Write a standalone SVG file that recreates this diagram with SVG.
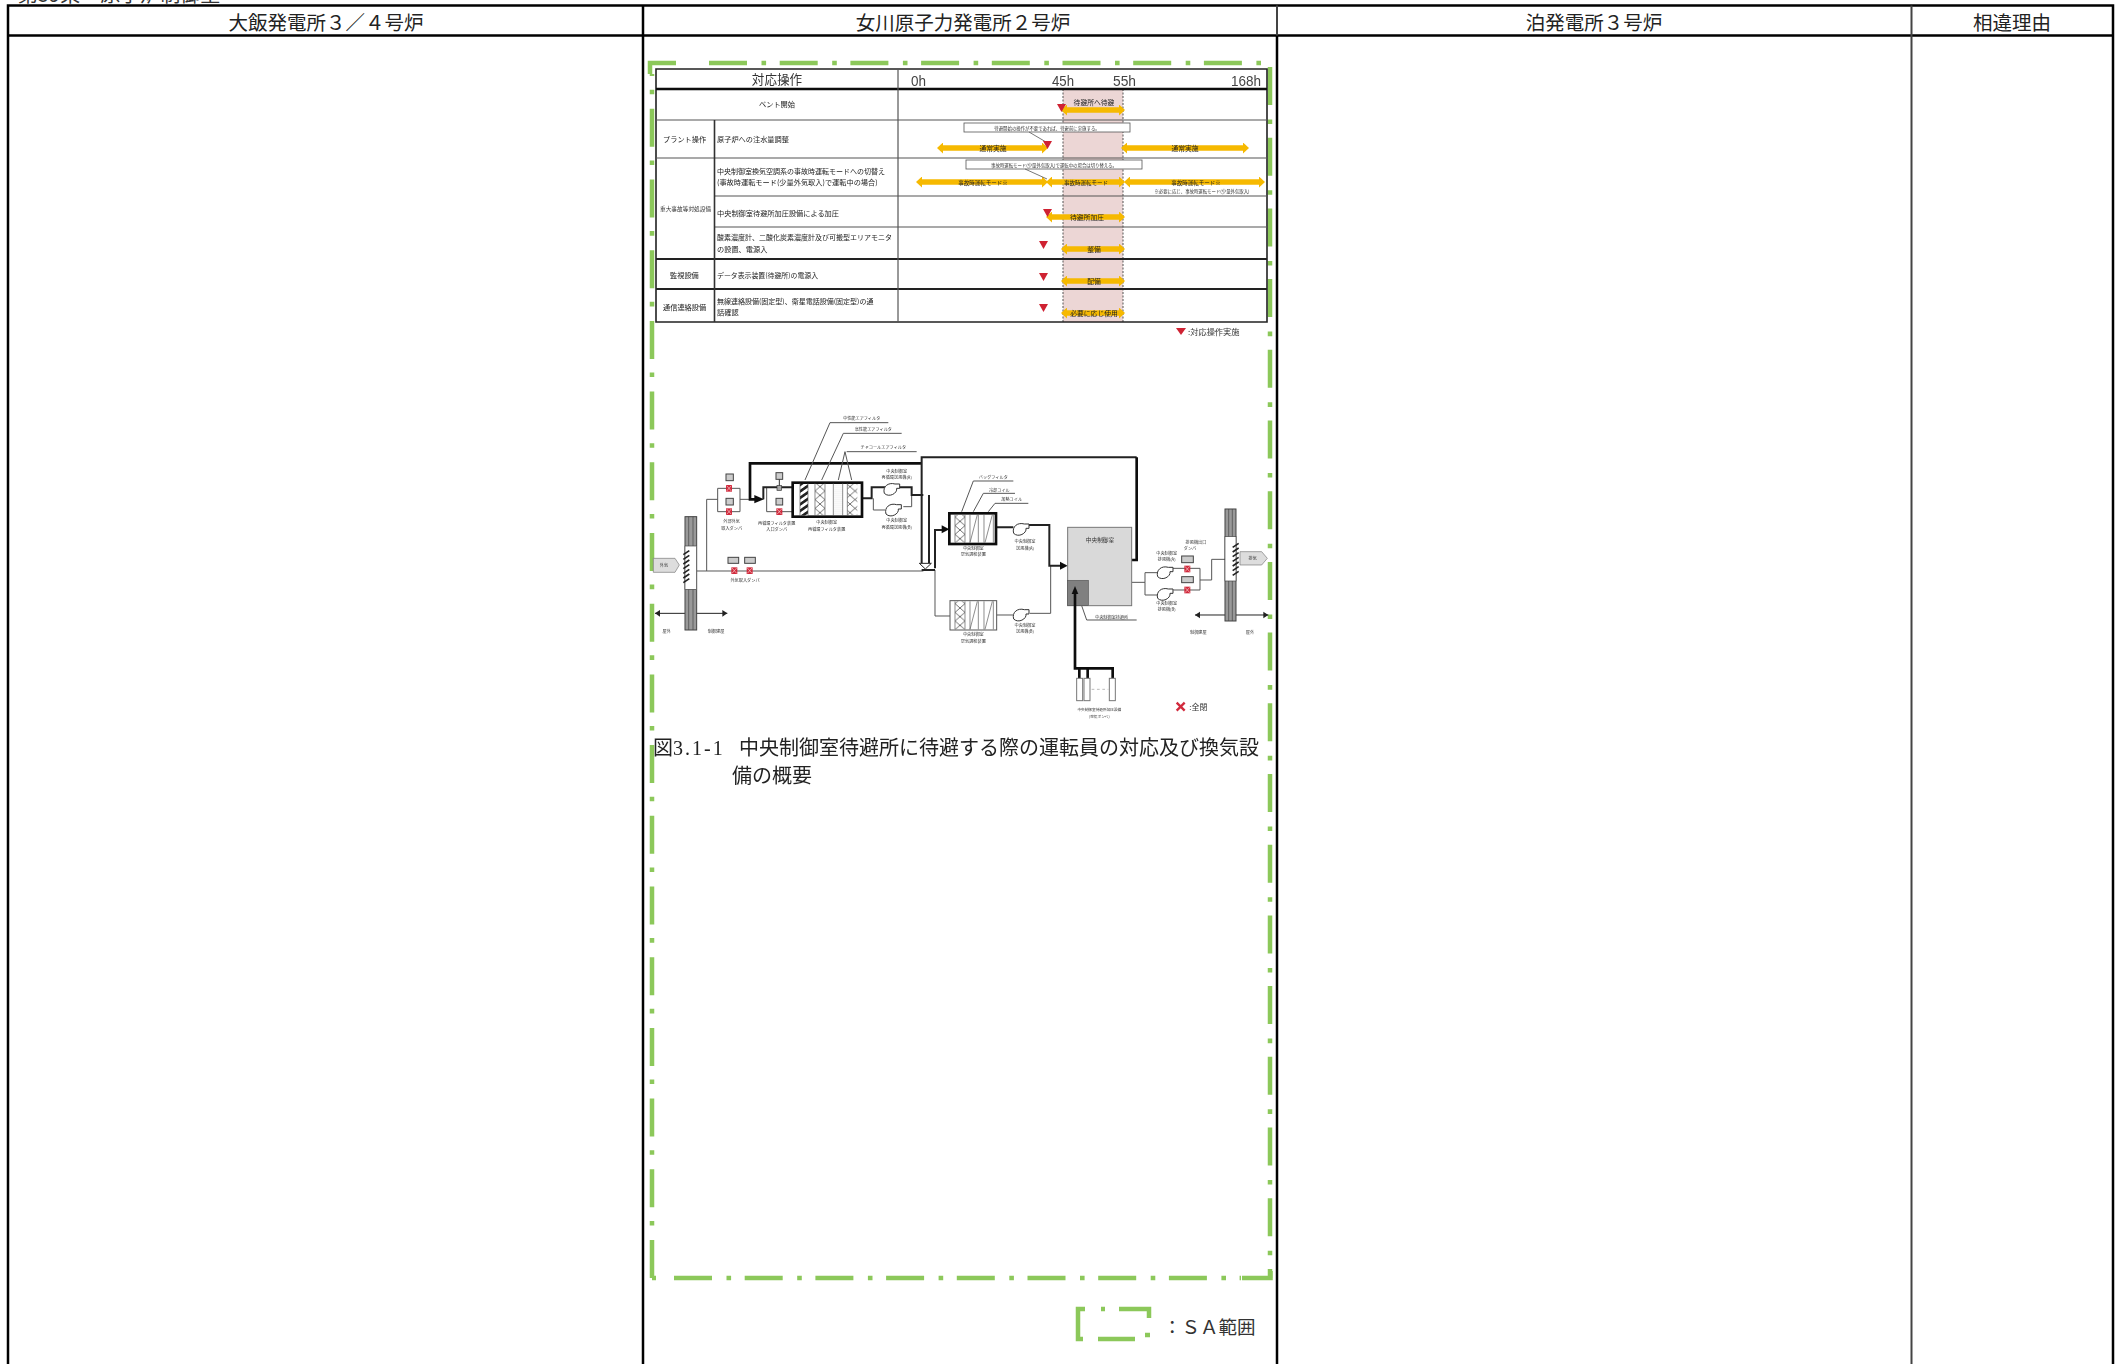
<svg xmlns="http://www.w3.org/2000/svg" width="2121" height="1364" viewBox="0 0 2121 1364">
<style>
text{font-family:"Noto Sans CJK JP","Liberation Sans",sans-serif;fill:#333}
.h{font-size:19.5px;text-anchor:middle;fill:#222}
.cap{font-size:20px;fill:#222;font-family:"Liberation Serif","Noto Sans CJK JP",serif}
.grid{stroke:#000;stroke-width:2.5;fill:none}
.sa{fill:none;stroke:#8cc85a;stroke-width:4.5;stroke-dasharray:38 14.5 4.6 13.6}
.sas{fill:none;stroke:#8cc85a;stroke-width:4.5}
.a{stroke:#f6b900;stroke-width:5.5;fill:none;marker-start:url(#oa);marker-end:url(#oa)}
.tri{fill:#cf2233}
.s{font-size:7.2px;fill:#222}
.c{text-anchor:middle}
.m{font-size:6.8px;text-anchor:middle;fill:#222}
.m5{font-size:5.5px;text-anchor:middle;fill:#222}
.n{font-size:4.4px;text-anchor:middle;fill:#333}
.hr{font-size:15px;fill:#444;font-family:"Liberation Sans",sans-serif}
.tl{stroke:#555;stroke-width:3;fill:none}
.tb{stroke:#111;stroke-width:8;fill:none}
.tm{stroke:#222;stroke-width:6;fill:none}
.z{font-size:12.5px;text-anchor:middle;fill:#333}
.zb{fill:#ccc;stroke:#444;stroke-width:3}
.fn{fill:#fff;stroke:#333;stroke-width:3}
.lv{fill:none;stroke:#222;stroke-width:5}
</style>
<defs>
<marker id="oa" viewBox="0 0 6 11" refX="1" refY="5.5" markerWidth="6" markerHeight="11" markerUnits="userSpaceOnUse" orient="auto-start-reverse"><path d="M0 0L6 5.5L0 11Z" fill="#f6b900"/></marker>
<pattern id="hatch" width="16" height="16" patternUnits="userSpaceOnUse" patternTransform="rotate(-35)"><rect width="16" height="16" fill="#fff"/><rect width="16" height="8" fill="#222"/></pattern>
<pattern id="xx" width="30" height="26" patternUnits="userSpaceOnUse"><path d="M0 0L30 26M30 0L0 26" stroke="#555" stroke-width="2.5" fill="none"/></pattern>
<pattern id="dots" width="6" height="6" patternUnits="userSpaceOnUse"><circle cx="3" cy="3" r="1" fill="#777"/></pattern>
<filter id="bl" x="-2%" y="-2%" width="104%" height="104%"><feGaussianBlur stdDeviation="0.45"/></filter>
<g id="dmp"><rect x="-9" y="-10" width="18" height="20" fill="#d12a3c"/><path d="M-7 -8L7 8M7 -8L-7 8" stroke="#f4d0d0" stroke-width="2"/></g>
<g id="fan"><path d="M-22 12C-28 -8 -10 -22 10 -16L24 -16L24 -3L15 -3C18 12 -8 26 -22 12Z" class="fn"/></g>
</defs>
<rect width="2121" height="1364" fill="#fff"/>

<g id="title"><text x="18" y="2" font-size="20">第59条　原子炉制御室</text></g>
<g id="frame">
<path class="grid" d="M8 1370V5.500H2113V1370M8 35.500H2113M643 5.500V1370M1277 35.500V1370"/>
<path d="M1277 5.500V35.500M1911.500 5.500V1370" stroke="#444" stroke-width="2" fill="none"/>
</g>
<g id="col-ohi"><text class="h" x="326" y="30">大飯発電所３／４号炉</text></g>
<g id="col-onagawa"><text class="h" x="963" y="30">女川原子力発電所２号炉</text></g>
<g id="col-tomari"><text class="h" x="1594" y="30">泊発電所３号炉</text></g>
<g id="col-reason"><text class="h" x="2012" y="30">相違理由</text></g>

<g id="sa-boundary">
<path class="sa" d="M709 63H1270"/>
<path class="sas" d="M676 63H650V74"/>
<path class="sa" d="M652 1278V74"/>
<path class="sa" d="M1270 67V1278"/>
<path class="sa" d="M674 1278H1241"/>
<path class="sas" d="M1242 1278H1270.500V1271"/>
<path class="sas" d="M652 1278H656"/>
</g>

<g id="chart" filter="url(#bl)">
<rect x="1063" y="89" width="60" height="233" fill="#ecd6d5"/>
<path d="M1063 89V322M1123 89V322" stroke="#555" stroke-width="1" stroke-dasharray="2 1.500"/>
<g id="chart-grid">
<path d="M656 69H1267V322H656Z" fill="none" stroke="#222" stroke-width="1.600"/>
<path d="M656 89H1267" stroke="#111" stroke-width="2.600"/>
<path d="M656 120H1267M656 158H1267M714.500 196H1267M714.500 227H1267" stroke="#555" stroke-width="1.200"/>
<path d="M656 259H1267M656 289H1267" stroke="#222" stroke-width="2"/>
<path d="M714.500 120V322" stroke="#333" stroke-width="1.600"/>
<path d="M898 69V322" stroke="#555" stroke-width="1.200"/>
</g>
<g id="chart-heads">
<text x="777" y="84" class="c" font-size="12.600">対応操作</text>
<text class="hr" x="911" y="85.500" textLength="15" lengthAdjust="spacingAndGlyphs">0h</text><text class="hr" x="1052" y="85.500" textLength="22" lengthAdjust="spacingAndGlyphs">45h</text><text class="hr" x="1113" y="85.500" textLength="23" lengthAdjust="spacingAndGlyphs">55h</text><text class="hr" x="1231" y="85.500" textLength="30" lengthAdjust="spacingAndGlyphs">168h</text>
</g>
<g id="chart-labels">
<text class="s c" x="777" y="106.500">ベント開始</text>
<text class="s" x="663" y="141.500">プラント操作</text>
<text class="s" x="717" y="141.500">原子炉への注水量調整</text>
<text class="s" x="717" y="173.500" style="font-size:7px">中央制御室換気空調系の事故時運転モードへの切替え</text>
<text class="s" x="717" y="185">(事故時運転モード(少量外気取入)で運転中の場合)</text>
<text x="660" y="210.500" font-size="5.700" fill="#222">重大事故等対処設備</text>
<text class="s" x="717" y="215.500">中央制御室待避所加圧設備による加圧</text>
<text class="s" x="717" y="239.500" style="font-size:7px">酸素濃度計、二酸化炭素濃度計及び可搬型エリアモニタ</text>
<text class="s" x="717" y="252">の設置、電源入</text>
<text class="s" x="670" y="277.500">監視設備</text>
<text class="s" x="717" y="277.500" style="font-size:6.900px">データ表示装置(待避所)の電源入</text>
<text class="s" x="663" y="309.500">通信連絡設備</text>
<text class="s" x="717" y="303.500" style="font-size:7px">無線連絡設備(固定型)、衛星電話設備(固定型)の通</text>
<text class="s" x="717" y="314.500">話確認</text>
</g>
<g id="chart-arrows">
<path class="a" d="M1066 110H1120"/>
<path class="a" d="M942 148H1043"/>
<path class="a" d="M1126 148H1244"/>
<path class="a" d="M921 182H1043"/>
<path class="a" d="M1051 182H1120"/>
<path class="a" d="M1129 182H1260"/>
<path class="a" d="M1051 217H1120"/>
<path class="a" d="M1066 249H1120"/>
<path class="a" d="M1066 281H1120"/>
<path class="a" d="M1066 313H1120"/>
</g>
<g id="chart-bar-labels">
<text class="m" x="1094" y="105">待避所へ待避</text>
<text class="m" x="993" y="150.500">通常実施</text>
<text class="m" x="1185" y="150.500">通常実施</text>
<text class="m5" x="983" y="184.500">事故時運転モード※</text>
<text class="m5" x="1086" y="184.500">事故時運転モード</text>
<text class="m5" x="1196" y="184.500">事故時運転モード※</text>
<text class="n" x="1202" y="193">※必要に応じ、事故時運転モード(少量外気取入)</text>
<text class="m" x="1087" y="219.500">待避所加圧</text>
<text class="m" x="1094" y="251.500">整備</text>
<text class="m" x="1094" y="283.500">配備</text>
<text class="m" x="1094" y="315.500">必要に応じ使用</text>
</g>
<g id="chart-notes">
<rect x="964" y="123" width="166" height="9" fill="#fff" stroke="#555" stroke-width=".8"/>
<text class="n" x="1047" y="129.500">待避開始の操作が不要であれば、待避前に実施する。</text>
<path d="M1029 132L1046 142" stroke="#555" stroke-width=".8" fill="none"/>
<rect x="966" y="160" width="176" height="9" fill="#fff" stroke="#555" stroke-width=".8"/>
<text class="n" x="1054" y="166.500">事故時運転モード(少量外気取入)で運転中の場合は切り替える。</text>
<path d="M1025 169L1047 179" stroke="#555" stroke-width=".8" fill="none"/>
</g>
<g id="chart-marks">
<path class="tri" d="M1057 104H1066L1061.500 112Z"/>
<path class="tri" d="M1043 141H1052L1047.500 149Z"/>
<path class="tri" d="M1043 209H1052L1047.500 217Z"/>
<path class="tri" d="M1039 241H1048L1043.500 249Z"/>
<path class="tri" d="M1039 273H1048L1043.500 281Z"/>
<path class="tri" d="M1039 304H1048L1043.500 312Z"/>
<path class="tri" d="M1176 328H1186L1181 335Z"/>
<text x="1188" y="335" font-size="8.200" fill="#333">:対応操作実施</text>
</g>
</g>

<g id="flow" filter="url(#bl)" transform="translate(640 400) scale(.33333)">
<g id="connectors">
<path class="tl" d="M170 513H850M200 513V298H233M300 298H330M233 265V335H300V265ZM380 262V335H458M700 295V330H735M790 320H815V285M885 510V648H930M1070 645H1120M1170 640H1232V497M1475 547H1515V518H1555M1515 547V585H1555"/>
<path class="tb" d="M845 190H330V298H355"/>
<path class="tm" d="M845 285V172H1490"/>
<path class="tb" d="M1490 172V480H1470"/>
<path d="M1470 470L1456 480L1470 490Z" fill="#111"/>
<path d="M343 285L372 298L343 310Z" fill="#111"/>
<path class="tm" d="M370 298V262H458M665 295H695V262H735M775 262H815V285H850"/>
<path class="tm" d="M845 285V490M867 285V490M845 510H885"/>
<path d="M838 490H874L856 507Z" fill="#fff" stroke="#222" stroke-width="3"/>
<path class="tm" d="M885 505V390H910"/>
<path d="M905 376L928 388L905 400Z" fill="#111"/>
<path class="tm" d="M1068 382H1120M1165 375H1228V497H1262"/>
<path d="M1260 485L1283 497L1260 509Z" fill="#111"/>
<path class="tb" d="M1305 795V805H1418V835M1318 805V835M1343 805V835"/>
<path class="tl" d="M1595 505H1680V570H1600M1680 540H1715V478H1755"/>
<path class="tl" d="M1325 617L1340 660H1490"/>
<path class="tl" d="M570 68H745M570 68L495 240M610 100H785M610 100L545 240M620 155H830M615 155L595 240M615 155L635 240M1000 243H1120M1000 243L965 335M1030 280H1125M1030 280L1000 335M1065 310H1165M1065 310L1045 335"/>
<path d="M45 640H262M1665 645H1885" stroke="#222" stroke-width="3"/>
<path d="M45 640L60 630V650ZM262 640L247 630V650ZM1665 645L1680 635V655ZM1885 645L1870 635V655Z" fill="#222"/>
</g>
<g id="wall-left">
<rect x="135" y="350" width="35" height="340" fill="#999" stroke="#444" stroke-width="3"/>
<path d="M146 350V690M159 350V690" stroke="#444" stroke-width="2"/>
<rect x="135" y="438" width="35" height="130" fill="#fff" stroke="#444" stroke-width="2"/>
<path class="lv" d="M130 464L148 452M130 478L148 466M130 492L148 480M130 506L148 494M130 520L148 508M130 534L148 522M130 548L148 536"/>
</g>
<g id="outside-air">
<path d="M40 475H105L118 495L105 517H40Z" fill="#ddd" stroke="#777" stroke-width="2"/>
<text class="z" x="72" y="500">外気</text>
</g>
<g id="outdoor-left"><text class="z" x="80" y="700">屋外</text><text class="z" x="228" y="700">制御建屋</text></g>
<g id="damper-intake-a">
<rect class="zb" x="258" y="222" width="22" height="20"/><use href="#dmp" x="267" y="265"/>
<rect class="zb" x="258" y="295" width="22" height="20"/><use href="#dmp" x="267" y="335"/>
<text class="z" x="275" y="370">外部外気</text><text class="z" x="275" y="390">取入ダンパ</text>
</g>
<g id="damper-recirc">
<rect class="zb" x="408" y="218" width="20" height="20"/><path d="M418 238V262" stroke="#333" stroke-width="3"/><rect x="411" y="257" width="14" height="14" fill="#aaa" stroke="#333" stroke-width="2"/>
<rect class="zb" x="408" y="295" width="20" height="20"/><use href="#dmp" x="418" y="335"/>
<text class="z" x="410" y="374">再循環フィルタ装置</text><text class="z" x="410" y="392">入口ダンパ</text>
</g>
<g id="recirc-filter">
<rect x="458" y="248" width="208" height="102" fill="#fff" stroke="#111" stroke-width="8"/>
<rect x="480" y="252" width="24" height="94" fill="url(#hatch)"/>
<rect x="525" y="252" width="30" height="94" fill="url(#xx)"/>
<rect x="582" y="252" width="26" height="94" fill="url(#dots)"/>
<rect x="622" y="252" width="30" height="94" fill="url(#xx)"/>
<path d="M480 250V348M504 250V348M525 250V348M555 250V348M580 250V348M608 250V348M622 250V348" stroke="#555" stroke-width="2"/>
<text class="z" x="560" y="371">中央制御室</text><text class="z" x="560" y="392">再循環フィルタ装置</text>
</g>
<g id="filter-labels">
<text class="z" x="665" y="60">中性能エアフィルタ</text>
<text class="z" x="700" y="93">高性能エアフィルタ</text>
<text class="z" x="730" y="147">チャコールエアフィルタ</text>
<text class="z" x="1060" y="238">バッグフィルタ</text>
<text class="z" x="1078" y="275">冷却コイル</text>
<text class="z" x="1115" y="304">加熱コイル</text>
</g>
<g id="fan-recirc-a"><use href="#fan" x="755" y="268"/><text class="z" x="770" y="218">中央制御室</text><text class="z" x="770" y="236">再循環送風機(A)</text></g>
<g id="fan-recirc-b"><use href="#fan" x="760" y="330"/><text class="z" x="770" y="366">中央制御室</text><text class="z" x="770" y="387">再循環送風機(B)</text></g>
<g id="damper-intake">
<rect class="zb" x="264" y="472" width="32" height="18"/><rect class="zb" x="314" y="472" width="32" height="18"/>
<use href="#dmp" x="283" y="512"/><use href="#dmp" x="329" y="512"/>
<text class="z" x="315" y="545">外気取入ダンパ</text>
</g>
<g id="ahu-a">
<rect x="928" y="340" width="140" height="92" fill="#fff" stroke="#111" stroke-width="8"/>
<rect x="945" y="344" width="30" height="84" fill="url(#xx)"/>
<path d="M945 344V428M975 344V428M990 344V428M1015 344V428M1032 344V428M1060 344V428M990 428L1012 344M1035 428L1057 344" stroke="#555" stroke-width="2" fill="none"/>
<text class="z" x="1000" y="449">中央制御室</text><text class="z" x="1000" y="469">空気調和装置</text>
</g>
<g id="ahu-b">
<rect x="930" y="602" width="140" height="88" fill="#fff" stroke="#555" stroke-width="3"/>
<rect x="945" y="604" width="30" height="84" fill="url(#xx)"/>
<path d="M945 604V688M975 604V688M990 604V688M1015 604V688M1032 604V688M1060 604V688M990 688L1012 604M1035 688L1057 604" stroke="#555" stroke-width="2" fill="none"/>
<text class="z" x="1000" y="708">中央制御室</text><text class="z" x="1000" y="728">空気調和装置</text>
</g>
<g id="fan-supply-a"><use href="#fan" x="1143" y="388"/><text class="z" x="1155" y="429">中央制御室</text><text class="z" x="1155" y="449">送風機(A)</text></g>
<g id="fan-supply-b"><use href="#fan" x="1143" y="645"/><text class="z" x="1155" y="682">中央制御室</text><text class="z" x="1155" y="699">送風機(B)</text></g>
<g id="control-room">
<rect x="1283" y="382" width="192" height="235" fill="#d9d9d9" stroke="#777" stroke-width="3"/>
<rect x="1283" y="541" width="62" height="76" fill="#808080" stroke="#555" stroke-width="2"/>
<text x="1380" y="427" font-size="17" text-anchor="middle" fill="#333">中央制御室</text>
<path d="M1305 575V795" stroke="#111" stroke-width="8"/>
<path d="M1295 582L1305 558L1315 582Z" fill="#111"/>
</g>
<g id="shelter-label"><text class="z" x="1415" y="656">中央制御室待避所</text></g>
<g id="tanks">
<rect x="1310" y="835" width="18" height="67" fill="#fff" stroke="#777" stroke-width="3"/>
<rect x="1332" y="835" width="18" height="67" fill="#fff" stroke="#777" stroke-width="3"/>
<rect x="1408" y="835" width="18" height="67" fill="#fff" stroke="#777" stroke-width="3"/>
<path d="M1355 868H1405" stroke="#999" stroke-width="2" stroke-dasharray="8 8"/>
<text class="z" x="1378" y="934" style="font-size:11px">中央制御室待避所加圧設備</text><text class="z" x="1378" y="954" style="font-size:11px">(空気ボンベ)</text>
</g>
<g id="fan-exhaust-a"><use href="#fan" x="1575" y="518"/><text class="z" x="1580" y="464">中央制御室</text><text class="z" x="1580" y="482">排風機(A)</text></g>
<g id="fan-exhaust-b"><use href="#fan" x="1575" y="583"/><text class="z" x="1580" y="616">中央制御室</text><text class="z" x="1580" y="634">排風機(B)</text></g>
<g id="damper-exhaust">
<rect class="zb" x="1625" y="468" width="35" height="20"/><rect class="zb" x="1625" y="530" width="35" height="18"/>
<use href="#dmp" x="1642" y="507"/><use href="#dmp" x="1642" y="570"/>
<text class="z" x="1668" y="432">排風機出口</text><text class="z" x="1650" y="449">ダンパ</text>
</g>
<g id="wall-right">
<rect x="1755" y="327" width="33" height="336" fill="#999" stroke="#444" stroke-width="3"/>
<path d="M1766 327V663M1777 327V663" stroke="#444" stroke-width="2"/>
<rect x="1755" y="410" width="33" height="133" fill="#fff" stroke="#444" stroke-width="2"/>
<path class="lv" d="M1778 442L1796 430M1778 456L1796 444M1778 470L1796 458M1778 484L1796 472M1778 498L1796 486M1778 512L1796 500M1778 526L1796 514"/>
</g>
<g id="exhaust-air">
<path d="M1800 455H1865L1882 475L1865 495H1800Z" fill="#ddd" stroke="#777" stroke-width="2"/>
<text class="z" x="1838" y="481">排気</text>
</g>
<g id="outdoor-right"><text class="z" x="1675" y="702">制御建屋</text><text class="z" x="1830" y="702">屋外</text></g>
<g id="legend-closed">
<path d="M1610 908L1634 932M1634 908L1610 932" stroke="#d12a3c" stroke-width="7"/>
<text x="1648" y="929" font-size="24" fill="#444">:全閉</text>
</g>
</g>

<g id="caption" filter="url(#bl)">
<text class="cap" x="653" y="755">図<tspan letter-spacing="2">3.1-1</tspan></text>
<text class="cap" x="739" y="755">中央制御室待避所に待避する際の運転員の対応及び換気設</text>
<text class="cap" x="732" y="783">備の概要</text>
</g>
<g id="sa-legend">
<path class="sas" d="M1085 1309H1078V1339H1083M1119 1309H1149V1318M1098 1339H1135"/>
<path d="M1101 1309H1105M1145 1335H1150" class="sas"/>
<text x="1163" y="1334" font-size="18.500" fill="#222">：ＳＡ範囲</text>
</g>
</svg>
